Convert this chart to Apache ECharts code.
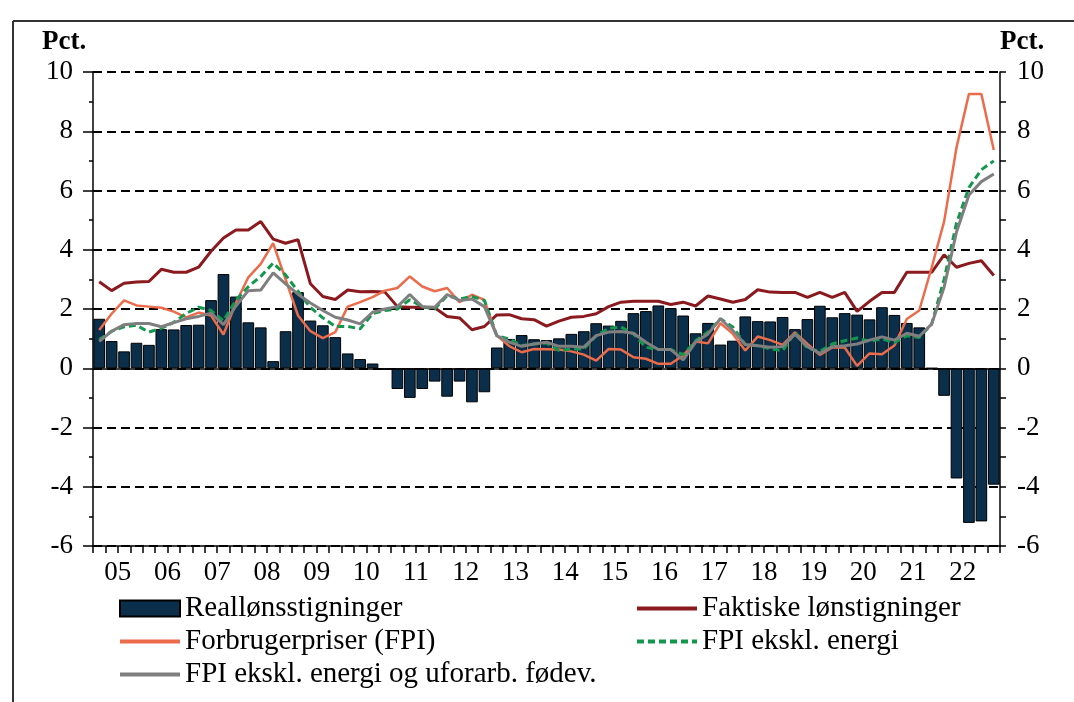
<!DOCTYPE html>
<html><head><meta charset="utf-8">
<script src="https://cdn.jsdelivr.net/npm/echarts@6/dist/echarts.min.js"></script>
<style>html,body{margin:0;padding:0;background:#fff}#c{width:1074px;height:702px}</style>
</head><body><div id="c"></div>
<script>
// Quarters 2005K1 .. 2023K1
const years = ['05','06','07','08','09','10','11','12','13','14','15','16','17','18','19','20','21','22','23'];
const quarters = [];
years.forEach(function (y) { for (let q = 1; q <= 4; q++) quarters.push(y + 'K' + q); });
quarters.length = 73;
const yearLabels = ['05','06','07','08','09','10','11','12','13','14','15','16','17','18','19','20','21','22'];

const realWage = [1.67,0.92,0.57,0.86, 0.79,1.32,1.31,1.46, 1.47,2.30,3.18,2.42, 1.55,1.38,0.24,1.25,
  2.57,1.61,1.45,1.05, 0.50,0.31,0.16,-0.05, -0.70,-1.00,-0.70,-0.45, -0.96,-0.45,-1.15,-0.81,
  0.70,0.99,1.12,0.98, 0.95,1.01,1.16,1.25, 1.52,1.44,1.60,1.86, 1.93,2.12,2.03,1.78,
  1.18,1.53,0.80,0.93, 1.75,1.59,1.58,1.73, 1.32,1.66,2.11,1.72, 1.86,1.81,1.65,2.06,
  1.80,1.53,1.38,0.00, -0.93,-3.72,-5.22,-5.17, -3.93];
const wageGrowth = [2.92,2.62,2.87,2.91, 2.93,3.34,3.24,3.24, 3.41,3.95,4.40,4.67, 4.67,4.95,4.36,4.22,
  4.34,2.85,2.42,2.32, 2.64,2.58,2.59,2.57, 2.08,2.06,2.06,2.04, 1.75,1.70,1.30,1.41,
  1.80,1.81,1.67,1.64, 1.42,1.59,1.72,1.75, 1.84,2.08,2.23,2.26, 2.26,2.26,2.15,2.23,
  2.10,2.44,2.34,2.23, 2.32,2.65,2.57,2.56, 2.56,2.39,2.56,2.39, 2.56,1.92,2.26,2.56,
  2.56,3.24,3.24,3.24, 3.83,3.41,3.54,3.63, 3.13];
const cpi = [1.29,1.84,2.29,2.12, 2.08,2.04,1.91,1.72, 1.88,1.78,1.14,2.20, 3.07,3.52,4.22,3.00,
  1.78,1.25,1.02,1.22, 2.08,2.23,2.40,2.62, 2.71,3.10,2.76,2.60, 2.71,2.23,2.48,2.31,
  1.10,0.75,0.54,0.65, 0.64,0.63,0.57,0.46, 0.26,0.65,0.63,0.37, 0.32,0.15,0.15,0.43,
  0.90,0.84,1.52,1.16, 0.60,1.07,0.95,0.79, 1.21,0.82,0.45,0.70, 0.70,0.08,0.50,0.47,
  0.77,1.66,1.95,3.40, 4.95,7.45,9.26,9.26, 7.37];
const cpiExEnergy = [0.97,1.25,1.40,1.45, 1.22,1.35,1.55,1.85, 2.06,1.95,1.60,2.30, 2.75,3.10,3.55,3.15,
  2.60,2.05,1.70,1.41, 1.41,1.33,1.84,1.95, 2.00,2.31,2.08,2.00, 2.45,2.34,2.42,2.29,
  1.10,0.99,0.77,0.82, 0.85,0.60,0.65,0.65, 1.10,1.35,1.39,1.16, 0.71,0.63,0.63,0.46,
  0.93,1.22,1.67,1.39, 0.80,0.76,0.65,0.59, 1.21,0.68,0.57,0.82, 0.93,1.02,0.91,0.99,
  0.87,1.10,1.04,1.49, 3.00,4.90,6.10,6.70, 7.00];
const cpiCore = [0.91,1.25,1.47,1.51, 1.51,1.40,1.54,1.67, 1.75,1.86,1.47,2.10, 2.62,2.64,3.22,2.85,
  2.50,2.20,1.95,1.72, 1.63,1.50,1.89,2.00, 2.08,2.49,2.08,2.06, 2.49,2.29,2.34,2.08,
  1.10,0.88,0.74,0.82, 0.88,0.74,0.74,0.71, 1.10,1.22,1.24,1.18, 0.88,0.63,0.63,0.28,
  0.88,1.16,1.67,1.27, 0.80,0.76,0.71,0.73, 1.15,0.73,0.50,0.73, 0.76,0.82,0.95,1.06,
  0.95,1.18,1.08,1.49, 2.73,4.60,5.85,6.30, 6.56];

const FONT = "'Liberation Serif', 'Times New Roman', serif";
const blk = {color: '#000', width: 1.5};
const noSym = {color: 'rgba(0,0,0,0)', borderWidth: 0, opacity: 0};

const chart = echarts.init(document.getElementById('c'), null, {renderer: 'canvas'});
chart.setOption({
  animation: false,
  backgroundColor: '#fff',
  grid: {left: 93, right: 74, top: 72, bottom: 156, containLabel: false},
  xAxis: [
    {type: 'category', data: quarters, position: 'bottom',
     axisLine: {show: true, onZero: false, lineStyle: blk},
     axisTick: {show: true, interval: 0, length: 7, lineStyle: blk},
     axisLabel: {show: false}, splitLine: {show: false}},
    {type: 'value', min: 0, max: 73, interval: 2, position: 'bottom',
     axisLine: {show: false, onZero: false}, axisTick: {show: false}, splitLine: {show: false},
     axisLabel: {fontSize: 27, fontFamily: FONT, color: '#000', margin: 13,
       formatter: function (v) { return (v % 4 === 2) ? (yearLabels[(v - 2) / 4] || '') : ''; }}}
  ],
  yAxis: [
    {type: 'value', min: -6, max: 10, interval: 2, position: 'left',
     axisLine: {show: true, lineStyle: blk},
     axisTick: {show: true, length: 10, lineStyle: blk},
     minorTick: {show: true, splitNumber: 2, length: 4, lineStyle: blk},
     splitLine: {show: true, lineStyle: {color: '#000', type: [9, 5], width: 1.8}},
     axisLabel: {fontSize: 27, fontFamily: FONT, color: '#000', margin: 20}},
    {type: 'value', min: -6, max: 10, interval: 2, position: 'right',
     axisLine: {show: true, lineStyle: blk},
     axisTick: {show: true, length: 6, lineStyle: blk},
     minorTick: {show: true, splitNumber: 2, length: 6, lineStyle: blk},
     splitLine: {show: false},
     axisLabel: {fontSize: 27, fontFamily: FONT, color: '#000', margin: 17}}
  ],
  legend: [
    {left: 118, top: 594, padding: 0, orient: 'vertical', itemWidth: 60, itemHeight: 16, itemGap: 4,
     data: [
       {name: 'Reallønsstigninger', icon: 'rect'},
       {name: 'Forbrugerpriser (FPI)', itemStyle: noSym},
       {name: 'FPI ekskl. energi og uforarb. fødev.', itemStyle: noSym}
     ],
     lineStyle: {width: 4},
     textStyle: {fontSize: 29, fontFamily: FONT, color: '#000', lineHeight: 27}},
    {left: 635, top: 594, padding: 0, orient: 'vertical', itemWidth: 60, itemHeight: 16, itemGap: 4,
     data: [
       {name: 'Faktiske lønstigninger', itemStyle: noSym},
       {name: 'FPI ekskl. energi', itemStyle: noSym}
     ],
     lineStyle: {width: 4},
     textStyle: {fontSize: 29, fontFamily: FONT, color: '#000', lineHeight: 27}}
  ],
  series: [
    {name: 'Reallønsstigninger', type: 'bar', data: realWage, barCategoryGap: '6%',
     itemStyle: {color: '#0B2E4B', borderColor: '#000', borderWidth: 1},
     markLine: {silent: true, symbol: 'none', label: {show: false},
       lineStyle: {color: '#000', type: 'solid', width: 1.5}, data: [{yAxis: 0}]}},
    {name: 'Faktiske lønstigninger', type: 'line', data: wageGrowth, symbol: 'none',
     lineStyle: {color: '#8B1A1E', width: 3}, itemStyle: {color: '#8B1A1E'}},
    {name: 'Forbrugerpriser (FPI)', type: 'line', data: cpi, symbol: 'none',
     lineStyle: {color: '#EC6B4A', width: 2.5}, itemStyle: {color: '#EC6B4A'}},
    {name: 'FPI ekskl. energi', type: 'line', data: cpiExEnergy, symbol: 'none',
     lineStyle: {color: '#12984D', width: 3, type: [7, 4]}, itemStyle: {color: '#12984D'}},
    {name: 'FPI ekskl. energi og uforarb. fødev.', type: 'line', data: cpiCore, symbol: 'none',
     lineStyle: {color: '#7F7F7F', width: 3}, itemStyle: {color: '#7F7F7F'}}
  ],
  graphic: [
    {type: 'line', shape: {x1: 13, y1: 21, x2: 1074, y2: 21}, style: {stroke: '#333', lineWidth: 2}},
    {type: 'line', shape: {x1: 13, y1: 21, x2: 13, y2: 702}, style: {stroke: '#333', lineWidth: 2}},
    {type: 'text', left: 42, top: 29, style: {text: 'Pct.', font: "bold 27px 'Liberation Serif', serif", fill: '#000'}},
    {type: 'text', left: 1000, top: 29, style: {text: 'Pct.', font: "bold 27px 'Liberation Serif', serif", fill: '#000'}}
  ]
});
</script></body></html>
